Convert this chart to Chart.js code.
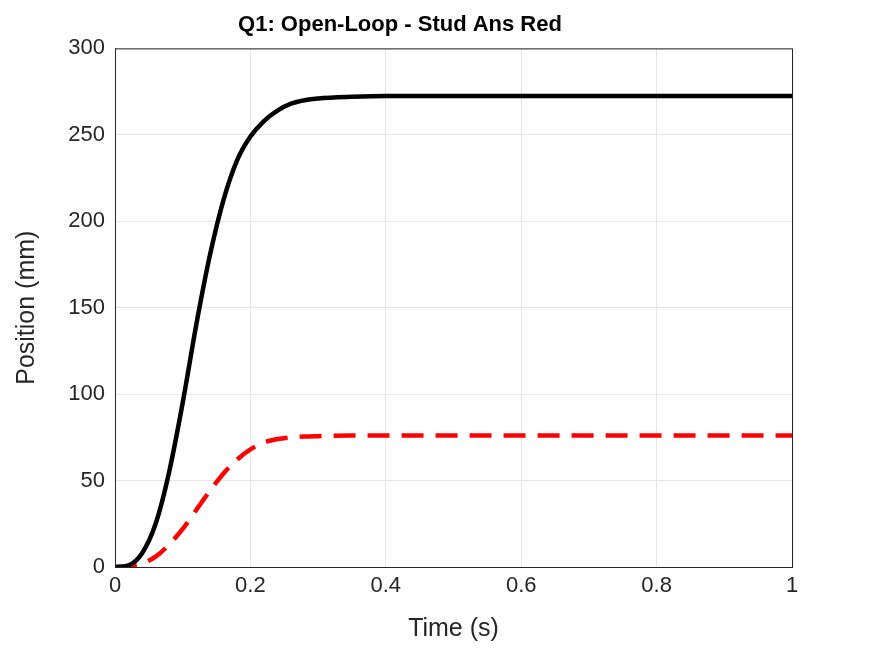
<!DOCTYPE html>
<html>
<head>
<script src="https://cdn.jsdelivr.net/npm/chart.js@4"></script>
<style>
body{margin:0;background:#fff}
#wrap{width:875px;height:656px}
</style>
</head>
<body>
<div id="wrap"><canvas id="grafico"></canvas></div>
<script>
const tiempo = [0,0.02,0.04,0.06,0.08,0.10,0.12,0.14,0.16,0.18,0.20,0.22,0.24,0.26,0.28,0.30,0.35,0.40,0.60,1.0];
const stud = [0,1,8,25,55,95,140,180,212,235,249,258,264,268,270,271,272,272.5,272.5,272.5];
const ansRed = [0,0.3,2,6,13,22,33,44,54,62,68,72,74,75,75.5,75.7,76,76,76,76];

function pts(ys){ return tiempo.map((t,i)=>({x:t,y:ys[i]})); }

const marco = {
  id:"marco",
  afterDraw(c){
    const a=c.chartArea, g=c.ctx;
    g.save(); g.strokeStyle="#262626"; g.lineWidth=1;
    g.strokeRect(a.left+0.5,a.top+0.5,a.right-a.left,a.bottom-a.top);
    g.restore();
  }
};

const fuente = "Helvetica, Arial, 'Liberation Sans', sans-serif";

new Chart(document.getElementById("grafico"),{
  type:"line",
  data:{datasets:[
    {label:"Stud",data:pts(stud),borderColor:"#000",borderWidth:4.5,pointRadius:0,cubicInterpolationMode:"monotone",fill:false},
    {label:"Ans Red",data:pts(ansRed),borderColor:"#ff0000",borderWidth:4.5,borderDash:[22,12],pointRadius:0,cubicInterpolationMode:"monotone",fill:false}
  ]},
  options:{
    responsive:true,maintainAspectRatio:false,animation:false,
    layout:{padding:{left:8,right:83,top:6,bottom:8}},
    plugins:{
      legend:{display:false},
      title:{display:true,text:"Q1: Open-Loop - Stud Ans Red",color:"#000",font:{family:fuente,size:22,weight:"bold"},padding:{top:6,bottom:10}}
    },
    scales:{
      x:{type:"linear",min:0,max:1,
        afterFit:s=>{s.height=81;},
        ticks:{stepSize:0.2,color:"#262626",font:{family:fuente,size:22},callback:v=>Number(v.toFixed(1)).toString(),padding:6},
        grid:{color:"#e5e5e5",tickLength:0},border:{color:"#262626"},
        title:{display:true,text:"Time (s)",color:"#262626",font:{family:fuente,size:25},padding:{top:2}}},
      y:{min:0,max:300,
        afterFit:s=>{s.width=107;},
        ticks:{stepSize:50,color:"#262626",font:{family:fuente,size:22},padding:10},
        grid:{color:"#e5e5e5",tickLength:0},border:{color:"#262626"},
        title:{display:true,text:"Position (mm)",color:"#262626",font:{family:fuente,size:25},padding:{bottom:4}}}
    }
  },
  plugins:[marco]
});
</script>
</body>
</html>
